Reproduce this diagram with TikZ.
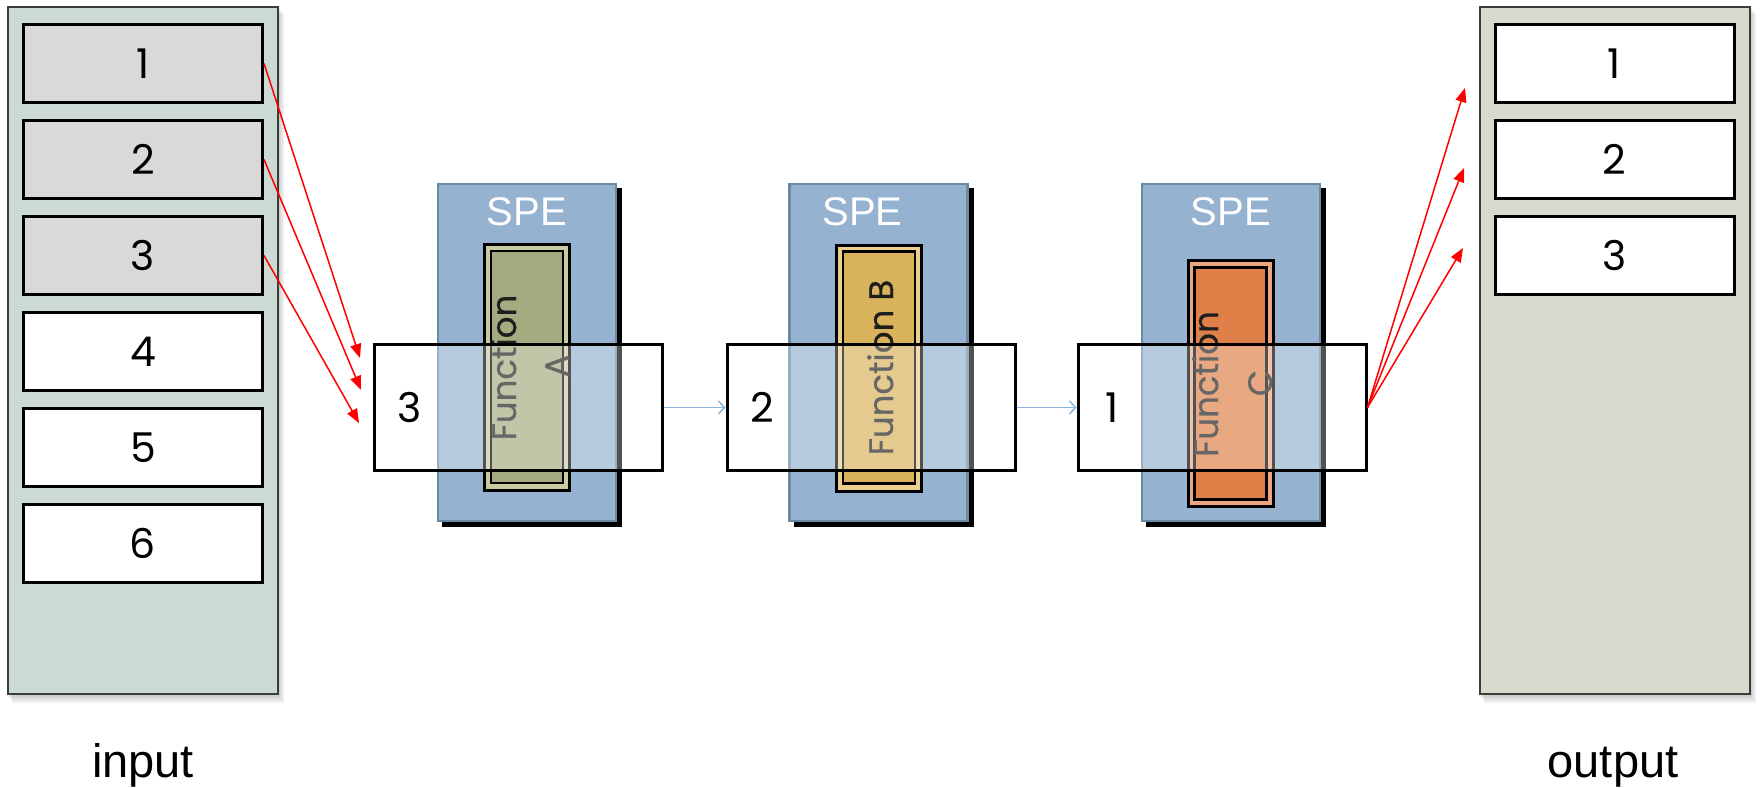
\documentclass[tikz,border=0pt]{standalone}
\usepackage{fontspec}
\setmainfont{Liberation Sans}
\newfontfamily\geofont{Poppins}
\usetikzlibrary{arrows.meta}
\newcommand\digfont{\geofont\fontsize{41}{50}\selectfont}
\newcommand\funfont{\geofont\fontsize{34}{40}\selectfont\addfontfeature{FakeBold=0.6}}
\definecolor{inpanel}{RGB}{204,218,212}
\definecolor{outpanel}{RGB}{216,218,205}
\definecolor{boxgray}{RGB}{217,217,217}
\definecolor{spefill}{RGB}{149,179,208}
\definecolor{speline}{RGB}{106,137,162}
\definecolor{funA}{RGB}{166,170,128}
\definecolor{funAl}{RGB}{200,204,160}
\definecolor{funB}{RGB}{217,178,92}
\definecolor{funBl}{RGB}{236,206,140}
\definecolor{funC}{RGB}{222,128,72}
\definecolor{funCl}{RGB}{236,165,125}
\definecolor{flowblue}{RGB}{143,180,218}
\definecolor{panelline}{RGB}{60,60,60}
\definecolor{funtext}{RGB}{30,30,30}
\begin{document}
\begin{tikzpicture}[x=1pt,y=-1pt,
 panel/.style={draw=panelline,line width=2pt,inner sep=0pt,minimum width=270pt,minimum height=687pt},
 slot/.style={draw=black,line width=3pt,inner sep=0pt,minimum width=239pt,minimum height=78pt,font=\digfont},
 speshadow/.style={fill=black,draw=none,inner sep=0pt,minimum width=180pt,minimum height=339pt},
 spebox/.style={fill=spefill,draw=speline,line width=2.5pt,inner sep=0pt,minimum width=178pt,minimum height=337pt},
 spelabel/.style={text=white,font=\fontsize{40}{48}\selectfont,anchor=base,inner sep=0pt},
 fouter/.style={draw=black,line width=3pt,inner sep=0pt,minimum width=85pt,minimum height=246pt},
 finner/.style={draw=black,line width=2.5pt,inner sep=0pt,minimum width=72pt,minimum height=232pt},
 ftext/.style={rotate=90,anchor=base,inner sep=0pt,text=funtext,font=\funfont},
 databox/.style={draw=black,line width=3pt,fill=white,fill opacity=0.32,inner sep=0pt,minimum width=288pt,minimum height=126pt},
 datalabel/.style={anchor=base,inner sep=0pt,font=\digfont},
 redarrow/.style={draw=red,line width=1.5pt,-{Triangle[length=14pt,width=11pt]}},
 flowarrow/.style={draw=flowblue,line width=1.5pt,-{Straight Barb[length=6pt,width=13pt]}},
 caption/.style={anchor=base,inner sep=0pt,font=\fontsize{47}{56}\selectfont}
]
\useasboundingbox[fill=white] (0,0) rectangle (1761,787);

% panel shadows
\foreach \d in {2,4,6,8}{
  \fill[black,opacity=0.05] (7+\d*0.6,6+\d) rectangle (279+\d*0.6,695+\d);
  \fill[black,opacity=0.05] (1479+\d*0.6,6+\d) rectangle (1751+\d*0.6,695+\d);
}
% panels
\node[panel,fill=inpanel] (inpanel) at (143,350.5) {};
\node[panel,fill=outpanel] (outpanel) at (1615,350.5) {};

% input slots
\node[slot,fill=boxgray] (in1) at (143,63.5) {1};
\node[slot,fill=boxgray] (in2) at (143,159.5) {2};
\node[slot,fill=boxgray] (in3) at (143,255.5) {3};
\node[slot,fill=white] (in4) at (143,351.5) {4};
\node[slot,fill=white] (in5) at (143,447.5) {5};
\node[slot,fill=white] (in6) at (143,543.5) {6};

% output slots
\node[slot,fill=white] (out1) at (1614.5,63.5) {1};
\node[slot,fill=white] (out2) at (1614.5,159.5) {2};
\node[slot,fill=white] (out3) at (1614.5,255.5) {3};

% SPE blocks
\node[speshadow] (shA) at (532,357.5) {};
\node[speshadow] (shB) at (883.5,357.5) {};
\node[speshadow] (shC) at (1236,357.5) {};
\node[spebox] (speA) at (527,352.5) {};
\node[spebox] (speB) at (878.5,352.5) {};
\node[spebox] (speC) at (1231,352.5) {};
\node[spelabel] (lblA) at (527,225) {SPE};
\node[spelabel] (lblB) at (862.5,225) {SPE};
\node[spelabel] (lblC) at (1231,225) {SPE};

% function frames
\node[fouter,fill=funAl] (foA) at (527,367.5) {};
\node[finner,fill=funA] (fiA) at (527,367) {};
\node[fouter,fill=funBl] (foB) at (879,368) {};
\node[finner,fill=funB] (fiB) at (879,367.5) {};
\node[fouter,fill=funCl] (foC) at (1231,383.5) {};
\node[finner,fill=funC] (fiC) at (1230.5,383.5) {};

\node[ftext] (ftA1) at (516,367.5) {Function};
\node[ftext] (ftA2) at (569,366) {A};
\node[ftext] (ftB) at (893,367.5) {Function B};
\node[ftext] (ftC1) at (1218,384) {Function};
\node[ftext] (ftC2) at (1272,383) {C};

% data boxes
\node[databox] (d3) at (518.5,407.5) {};
\node[databox] (d2) at (871,407.5) {};
\node[databox] (d1) at (1222,407.5) {};
\node[datalabel] (n3) at (410,422) {3};
\node[datalabel] (n2) at (762,422) {2};
\node[datalabel] (n1) at (1112,422) {1};

% flow arrows
\draw[flowarrow] (d3.east) -- (d2.west);
\draw[flowarrow] (d2.east) -- (d1.west);

% red arrows in
\coordinate (ia1) at (360,358);
\coordinate (ia2) at (361,390);
\coordinate (ia3) at (359,423);
\draw[redarrow] (in1.east) -- (ia1);
\draw[redarrow] (in2.east) -- (ia2);
\draw[redarrow] (in3.east) -- (ia3);

% red arrows out
\coordinate (oa1) at (1465,88);
\coordinate (oa2) at (1464,168);
\coordinate (oa3) at (1463,248);
\draw[redarrow] (d1.east) -- (oa1);
\draw[redarrow] (d1.east) -- (oa2);
\draw[redarrow] (d1.east) -- (oa3);

% captions
\node[caption] (capin) at (143,777) {input};
\node[caption] (capout) at (1613,777) {output};
\end{tikzpicture}
\end{document}
